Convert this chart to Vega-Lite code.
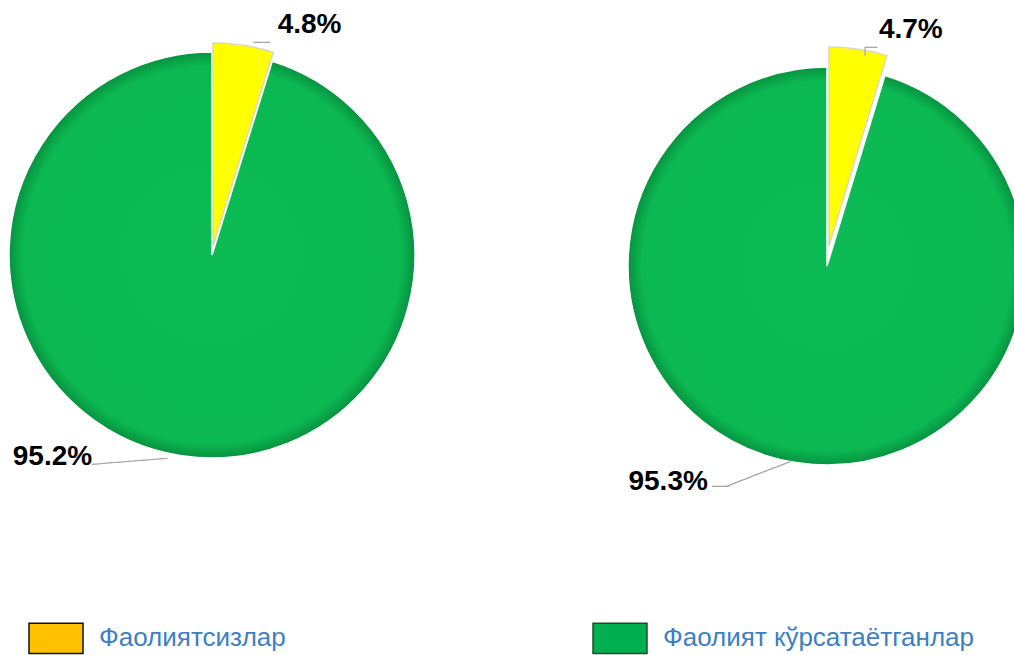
{
  "$schema": "https://vega.github.io/schema/vega-lite/v6.json",
  "padding": 0,
  "bounds": "flush",
  "background": "white",
  "config": {"view": {"stroke": null}, "font": "Liberation Sans"},
  "datasets": {
    "p1": [
      {"cat": "Фаолиятсизлар", "ord": 1, "value": 0.048},
      {"cat": "Фаолият кўрсатаётганлар", "ord": 2, "value": 0.952}
    ],
    "p2": [
      {"cat": "Фаолиятсизлар", "ord": 1, "value": 0.047},
      {"cat": "Фаолият кўрсатаётганлар", "ord": 2, "value": 0.953}
    ]
  },
  "spacing": 213,
  "hconcat": [
    {
      "width": 424,
      "height": 510,
      "data": {"name": "p1"},
      "encoding": {
        "theta": {"field": "value", "type": "quantitative", "stack": true},
        "order": {"field": "ord", "type": "quantitative"}
      },
      "layer": [
        {
          "mark": {"type": "arc", "outerRadius": 203, "stroke": "#ffffff", "strokeWidth": 1.5},
          "encoding": {
            "fill": {"condition": {"test": "datum.ord === 1", "value": "#ffffff"},
              "value": {"gradient": "radial", "x1": 0.5, "y1": 0.5, "x2": 0.5, "y2": 0.5, "r1": 0, "r2": 0.5,
                "stops": [{"offset": 0, "color": "#0cbb54"}, {"offset": 0.93, "color": "#0bb852"}, {"offset": 1, "color": "#07923f"}]}},
            "fillOpacity": {"condition": {"test": "datum.ord === 1", "value": 0}, "value": 1},
            "strokeOpacity": {"condition": {"test": "datum.ord === 1", "value": 0}, "value": 1}
          }
        },
        {
          "mark": {"type": "arc", "outerRadius": 203, "stroke": "#d9d9c0", "strokeWidth": 1.5, "xOffset": 1, "yOffset": -9},
          "encoding": {
            "fill": {"value": "#ffff00"},
            "fillOpacity": {"condition": {"test": "datum.ord === 1", "value": 1}, "value": 0},
            "strokeOpacity": {"condition": {"test": "datum.ord === 1", "value": 1}, "value": 0}
          }
        },
        {
          "mark": {"type": "text", "radius": 0},
          "encoding": {
            "text": {"value": ""},
            "size": {"value": 0},
            "color": {"field": "cat", "type": "nominal",
              "scale": {"domain": ["Фаолиятсизлар", "Фаолият кўрсатаётганлар"], "range": ["#ffc000", "#00b050"]},
              "legend": {"orient": "none", "legendX": 28, "legendY": 610, "direction": "horizontal", "columns": 2, "columnPadding": 304, "title": null,
                "symbolType": "M-1,-0.56H1V0.56H-1Z", "symbolSize": 2916, "symbolStrokeColor": "#1a1a1a", "symbolStrokeWidth": 1.5, "symbolOpacity": 1,
                "labelFontSize": 26, "labelColor": "#3d7fc1", "labelOffset": 15, "labelFont": "Liberation Sans", "labelLimit": 400,
                "encode": {"symbols": {"update": {"stroke": {"signal": "datum.value === 'Фаолиятсизлар' ? '#111111' : '#1f4d2b'"}}}}}}
          }
        },
        {
          "mark": {"type": "text", "radius": 230, "dx": 63, "dy": -3, "fontWeight": "bold", "fill": "#000000"},
          "encoding": {
            "text": {"condition": {"test": "datum.ord === 1", "field": "value", "format": ".1%"}, "value": ""},
            "size": {"condition": {"test": "datum.ord === 1", "value": 28}, "value": 0}
          }
        },
        {
          "mark": {"type": "text", "radius": 230, "dx": 15, "dy": 15, "font": "DejaVu Sans Mono", "fill": "#a6a6a6"},
          "encoding": {
            "text": {"condition": {"test": "datum.ord === 1", "value": "──"}, "value": ""},
            "size": {"condition": {"test": "datum.ord === 1", "value": 14}, "value": 0}
          }
        },
        {
          "mark": {"type": "text", "radius": 230, "dx": -125, "dy": -25, "fontWeight": "bold", "fill": "#000000"},
          "encoding": {
            "text": {"condition": {"test": "datum.ord === 2", "field": "value", "format": ".1%"}, "value": ""},
            "size": {"condition": {"test": "datum.ord === 2", "value": 28}, "value": 0}
          }
        },
        {
          "mark": {"type": "text", "radius": 230, "dx": -46, "dy": -24, "angle": -4.6, "font": "DejaVu Sans Mono", "fill": "#a6a6a6"},
          "encoding": {
            "text": {"condition": {"test": "datum.ord === 2", "value": "─────────"}, "value": ""},
            "size": {"condition": {"test": "datum.ord === 2", "value": 14}, "value": 0}
          }
        }
      ]
    },
    {
      "width": 380,
      "height": 532,
      "data": {"name": "p2"},
      "encoding": {
        "theta": {"field": "value", "type": "quantitative", "stack": true},
        "order": {"field": "ord", "type": "quantitative"}
      },
      "layer": [
        {
          "mark": {"type": "arc", "outerRadius": 199, "stroke": "#ffffff", "strokeWidth": 1.5},
          "encoding": {
            "fill": {"condition": {"test": "datum.ord === 1", "value": "#ffffff"},
              "value": {"gradient": "radial", "x1": 0.5, "y1": 0.5, "x2": 0.5, "y2": 0.5, "r1": 0, "r2": 0.5,
                "stops": [{"offset": 0, "color": "#0cbb54"}, {"offset": 0.93, "color": "#0bb852"}, {"offset": 1, "color": "#07923f"}]}},
            "fillOpacity": {"condition": {"test": "datum.ord === 1", "value": 0}, "value": 1},
            "strokeOpacity": {"condition": {"test": "datum.ord === 1", "value": 0}, "value": 1}
          }
        },
        {
          "mark": {"type": "arc", "outerRadius": 199, "stroke": "#d9d9c0", "strokeWidth": 1.5, "xOffset": 2, "yOffset": -20},
          "encoding": {
            "fill": {"value": "#ffff00"},
            "fillOpacity": {"condition": {"test": "datum.ord === 1", "value": 1}, "value": 0},
            "strokeOpacity": {"condition": {"test": "datum.ord === 1", "value": 1}, "value": 0}
          }
        },
        {
          "mark": {"type": "text", "radius": 230, "dx": 50, "dy": -9, "fontWeight": "bold", "fill": "#000000"},
          "encoding": {
            "text": {"condition": {"test": "datum.ord === 1", "field": "value", "format": ".1%"}, "value": ""},
            "size": {"condition": {"test": "datum.ord === 1", "value": 28}, "value": 0}
          }
        },
        {
          "mark": {"type": "text", "radius": 230, "dx": 8, "dy": 9, "font": "DejaVu Sans Mono", "fill": "#a6a6a6"},
          "encoding": {
            "text": {"condition": {"test": "datum.ord === 1", "value": "┌─"}, "value": ""},
            "size": {"condition": {"test": "datum.ord === 1", "value": 14}, "value": 0}
          }
        },
        {
          "mark": {"type": "text", "radius": 230, "dx": -125, "dy": -11, "fontWeight": "bold", "fill": "#000000"},
          "encoding": {
            "text": {"condition": {"test": "datum.ord === 2", "field": "value", "format": ".1%"}, "value": ""},
            "size": {"condition": {"test": "datum.ord === 2", "value": 28}, "value": 0}
          }
        },
        {
          "mark": {"type": "text", "radius": 230, "dx": -73, "dy": -6, "font": "DejaVu Sans Mono", "fill": "#a6a6a6"},
          "encoding": {
            "text": {"condition": {"test": "datum.ord === 2", "value": "──"}, "value": ""},
            "size": {"condition": {"test": "datum.ord === 2", "value": 14}, "value": 0}
          }
        },
        {
          "mark": {"type": "text", "radius": 230, "dx": -25, "dy": -30, "angle": -21.2, "font": "DejaVu Sans Mono", "fill": "#a6a6a6"},
          "encoding": {
            "text": {"condition": {"test": "datum.ord === 2", "value": "────────"}, "value": ""},
            "size": {"condition": {"test": "datum.ord === 2", "value": 14}, "value": 0}
          }
        }
      ]
    }
  ]
}
